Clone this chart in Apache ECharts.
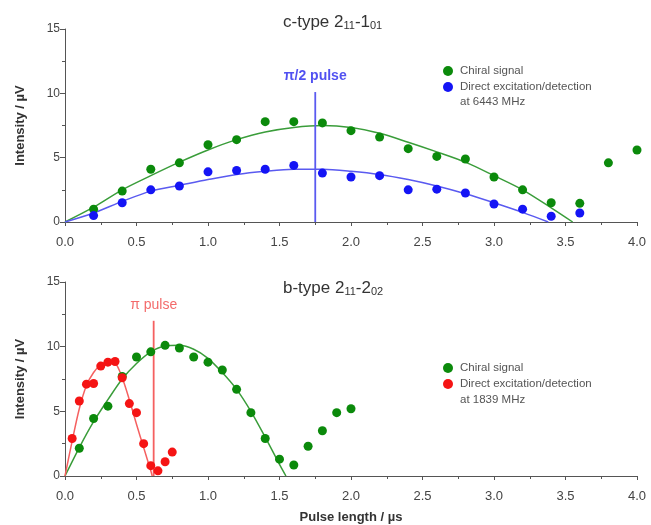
<!DOCTYPE html>
<html>
<head>
<meta charset="utf-8">
<title>Chiral signal vs pulse length</title>
<script src="https://cdn.jsdelivr.net/npm/echarts@6/dist/echarts.min.js"></script>
<style>
  html, body { margin: 0; padding: 0; background: #fff; }
  #main { width: 651px; height: 525px; }
</style>
</head>
<body>
<div id="main"></div>
<script>
// top panel: c-type 2(11)-1(01)
const pulseTop = [0.2, 0.4, 0.6, 0.8, 1.0, 1.2, 1.4, 1.6, 1.8, 2.0, 2.2, 2.4, 2.6, 2.8, 3.0, 3.2, 3.4, 3.6, 3.8, 4.0]
const chiralTop = [1.0, 2.4, 4.1, 4.6, 6.0, 6.4, 7.8, 7.8, 7.7, 7.1, 6.6, 5.7, 5.1, 4.9, 3.5, 2.5, 1.5, 1.45, 4.6, 5.6]
const pulseTopDirect = [0.2, 0.4, 0.6, 0.8, 1.0, 1.2, 1.4, 1.6, 1.8, 2.0, 2.2, 2.4, 2.6, 2.8, 3.0, 3.2, 3.4, 3.6]
const directTop = [0.5, 1.5, 2.5, 2.8, 3.9, 4.0, 4.1, 4.4, 3.8, 3.5, 3.6, 2.5, 2.55, 2.25, 1.4, 1.0, 0.45, 0.7]
// fitted curves
const fitChiralTopX = [0, 0.2, 0.4, 0.6, 0.8, 1.0, 1.2, 1.4, 1.6, 1.8, 2.0, 2.2, 2.4, 2.6, 2.8, 3.0, 3.2, 3.4, 3.55]
const fitChiralTopY = [0, 1.15, 2.5, 3.6, 4.65, 5.6, 6.4, 7.0, 7.35, 7.5, 7.35, 6.9, 6.2, 5.45, 4.65, 3.6, 2.5, 1.1, 0]
const fitDirectTopX = [0, 0.2, 0.4, 0.6, 0.8, 1.0, 1.2, 1.4, 1.6, 1.8, 2.0, 2.2, 2.4, 2.6, 2.8, 3.0, 3.2, 3.38]
const fitDirectTopY = [0, 0.7, 1.6, 2.4, 2.85, 3.3, 3.7, 3.95, 4.1, 4.1, 3.95, 3.7, 3.3, 2.8, 2.2, 1.5, 0.75, 0]
const halfPiPulse = [[1.75, 0], [1.75, 10.1]]

// bottom panel: b-type 2(11)-2(02)
const pulseBot = [0.1, 0.2, 0.3, 0.4, 0.5, 0.6, 0.7, 0.8, 0.9, 1.0, 1.1, 1.2, 1.3, 1.4, 1.5, 1.6, 1.7, 1.8, 1.9, 2.0]
const chiralBot = [2.15, 4.45, 5.4, 7.7, 9.2, 9.6, 10.1, 9.9, 9.2, 8.8, 8.2, 6.7, 4.9, 2.9, 1.3, 0.85, 2.3, 3.5, 4.9, 5.2]
const pulseBotDirect = [0.05, 0.1, 0.15, 0.2, 0.25, 0.3, 0.35, 0.4, 0.45, 0.5, 0.55, 0.6, 0.65, 0.7, 0.75]
const directBot = [2.9, 5.8, 7.1, 7.15, 8.5, 8.8, 8.85, 7.6, 5.6, 4.9, 2.5, 0.8, 0.4, 1.1, 1.85]
const fitChiralBotX = [0, 0.1, 0.2, 0.3, 0.4, 0.5, 0.6, 0.7, 0.8, 0.9, 1.0, 1.1, 1.2, 1.3, 1.4, 1.5, 1.545]
const fitChiralBotY = [0, 2.2, 4.2, 5.9, 7.5, 8.7, 9.6, 10.05, 10.1, 9.8, 9.1, 8.0, 6.7, 5.0, 3.0, 0.9, 0]
const fitDirectBotX = [0, 0.05, 0.1, 0.15, 0.2, 0.25, 0.3, 0.35, 0.4, 0.45, 0.5, 0.55, 0.6, 0.61]
const fitDirectBotY = [0, 2.7, 5.2, 7.0, 8.0, 8.6, 8.85, 8.75, 7.6, 5.9, 4.0, 2.2, 0.4, 0]
const piPulse = [[0.62, 0], [0.62, 12.0]]

const xTicks = [0, 0.5, 1, 1.5, 2, 2.5, 3, 3.5, 4]
const yTicks = [0, 5, 10, 15]

const GREEN = '#0b8a0b'
const GREEN_LINE = '#3a9d3a'
const BLUE = '#1414f5'
const BLUE_LINE = '#5a5af0'
const RED = '#f51414'
const RED_LINE = '#f56060'
const FONT = '"Liberation Sans", Arial, sans-serif'

const zip = (xs, ys) => xs.map((x, i) => [x, ys[i]])

const myChart = echarts.init(document.getElementById('main'), null, { renderer: 'canvas' })

function xAxisFor (idx, withName) {
  return {
    type: 'value',
    gridIndex: idx,
    min: xTicks[0],
    max: xTicks[xTicks.length - 1],
    interval: 0.5,
    name: withName ? 'Pulse length / µs' : '',
    nameLocation: 'middle',
    nameGap: 35,
    nameTextStyle: { fontFamily: FONT, fontSize: 13, fontWeight: 'bold', color: '#333' },
    axisLine: { show: true, onZero: false, lineStyle: { color: '#555', width: 1 } },
    axisTick: { show: true, inside: false, length: 4, lineStyle: { color: '#555' } },
    minorTick: { show: true, splitNumber: 2, length: 3, lineStyle: { color: '#555' } },
    splitLine: { show: false },
    axisLabel: {
      margin: 14,
      fontFamily: FONT,
      fontSize: 13,
      color: '#444',
      formatter: v => v.toFixed(1)
    }
  }
}

function yAxisFor (idx) {
  return {
    type: 'value',
    gridIndex: idx,
    min: yTicks[0],
    max: yTicks[yTicks.length - 1],
    interval: 5,
    name: 'Intensity / µV',
    nameLocation: 'middle',
    nameGap: 38,
    nameRotate: 90,
    nameTextStyle: { fontFamily: FONT, fontSize: 13, fontWeight: 'bold', color: '#333' },
    axisLine: { show: true, onZero: false, lineStyle: { color: '#555', width: 1 } },
    axisTick: { show: true, inside: false, length: 5, lineStyle: { color: '#555' } },
    minorTick: { show: true, splitNumber: 2, length: 3, lineStyle: { color: '#555' } },
    splitLine: { show: false },
    axisLabel: { margin: 5, fontFamily: FONT, fontSize: 12, color: '#444' }
  }
}

function scatter (name, idx, data, color) {
  return {
    name: name,
    type: 'scatter',
    xAxisIndex: idx,
    yAxisIndex: idx,
    data: data,
    symbol: 'circle',
    symbolSize: 9,
    itemStyle: { color: color, opacity: 1 },
    z: 5
  }
}

function fit (idx, data, color) {
  return {
    type: 'line',
    xAxisIndex: idx,
    yAxisIndex: idx,
    data: data,
    smooth: 0.3,
    showSymbol: false,
    symbol: 'none',
    lineStyle: { color: color, width: 1.5 },
    silent: true,
    z: 3
  }
}

// vertical pulse marker, drawn as a line; its label sits on an invisible point at the top
function pulseLine (idx, pts, color, text, labelColor, bold) {
  return [
    {
      type: 'line',
      xAxisIndex: idx,
      yAxisIndex: idx,
      data: pts,
      symbol: 'none',
      lineStyle: { color: color, width: 1.8 },
      silent: true,
      z: 4
    },
    {
      type: 'scatter',
      xAxisIndex: idx,
      yAxisIndex: idx,
      data: [pts[pts.length - 1]],
      symbolSize: 2,
      itemStyle: { color: 'rgba(0,0,0,0)' },
      label: {
        show: true,
        position: 'top',
        distance: 8,
        formatter: text,
        fontFamily: FONT,
        fontSize: 14,
        fontWeight: bold ? 'bold' : 'normal',
        color: labelColor
      },
      silent: true,
      z: 4
    }
  ]
}

function legendFor (top, names) {
  return {
    orient: 'vertical',
    left: 438,
    top: top,
    itemWidth: 10,
    itemHeight: 10,
    itemGap: 4,
    icon: 'circle',
    selectedMode: false,
    data: names,
    formatter: name => name.split('\n')[0],
    textStyle: { fontFamily: FONT, fontSize: 11.5, color: '#555', padding: [0, 0, 0, 2] }
  }
}

const titleStyle = {
  fontFamily: FONT, fontSize: 17, fontWeight: 'normal', color: '#333',
  rich: { s: { fontFamily: FONT, fontSize: 11, color: '#333', verticalAlign: 'bottom', padding: [6, 0, 0, 0] } }
}

const option = {
  animation: false,
  backgroundColor: '#fff',
  title: [
    { text: 'c-type 2{s|11}-1{s|01}', left: 278, top: 9, textStyle: titleStyle },
    { text: 'b-type 2{s|11}-2{s|02}', left: 278, top: 275, textStyle: titleStyle }
  ],
  legend: [
    legendFor(60, ['Chiral signal', 'Direct excitation/detection\nat 6443 MHz']),
    legendFor(357, ['Chiral signal ', 'Direct excitation/detection\nat 1839 MHz'])
  ],
  grid: [
    { left: 65, right: 14, top: 29, height: 193 },
    { left: 65, right: 14, top: 282, height: 194 }
  ],
  xAxis: [xAxisFor(0, false), xAxisFor(1, true)],
  yAxis: [yAxisFor(0), yAxisFor(1)],
  graphic: [
    { type: 'text', left: 460, top: 96, style: { text: 'at 6443 MHz', fontFamily: FONT, fontSize: 11.5, fill: '#555' } },
    { type: 'text', left: 460, top: 394, style: { text: 'at 1839 MHz', fontFamily: FONT, fontSize: 11.5, fill: '#555' } }
  ],
  series: [
    fit(0, zip(fitChiralTopX, fitChiralTopY), GREEN_LINE),
    fit(0, zip(fitDirectTopX, fitDirectTopY), BLUE_LINE),
    ...pulseLine(0, halfPiPulse, BLUE_LINE, 'π/2 pulse', '#2525ee', true),
    scatter('Chiral signal', 0, zip(pulseTop, chiralTop), GREEN),
    scatter('Direct excitation/detection\nat 6443 MHz', 0, zip(pulseTopDirect, directTop), BLUE),

    fit(1, zip(fitChiralBotX, fitChiralBotY), GREEN_LINE),
    fit(1, zip(fitDirectBotX, fitDirectBotY), RED_LINE),
    ...pulseLine(1, piPulse, RED_LINE, 'π pulse', '#f04545', false),
    scatter('Chiral signal ', 1, zip(pulseBot, chiralBot), GREEN),
    scatter('Direct excitation/detection\nat 1839 MHz', 1, zip(pulseBotDirect, directBot), RED)
  ]
}

myChart.setOption(option)
</script>
</body>
</html>
